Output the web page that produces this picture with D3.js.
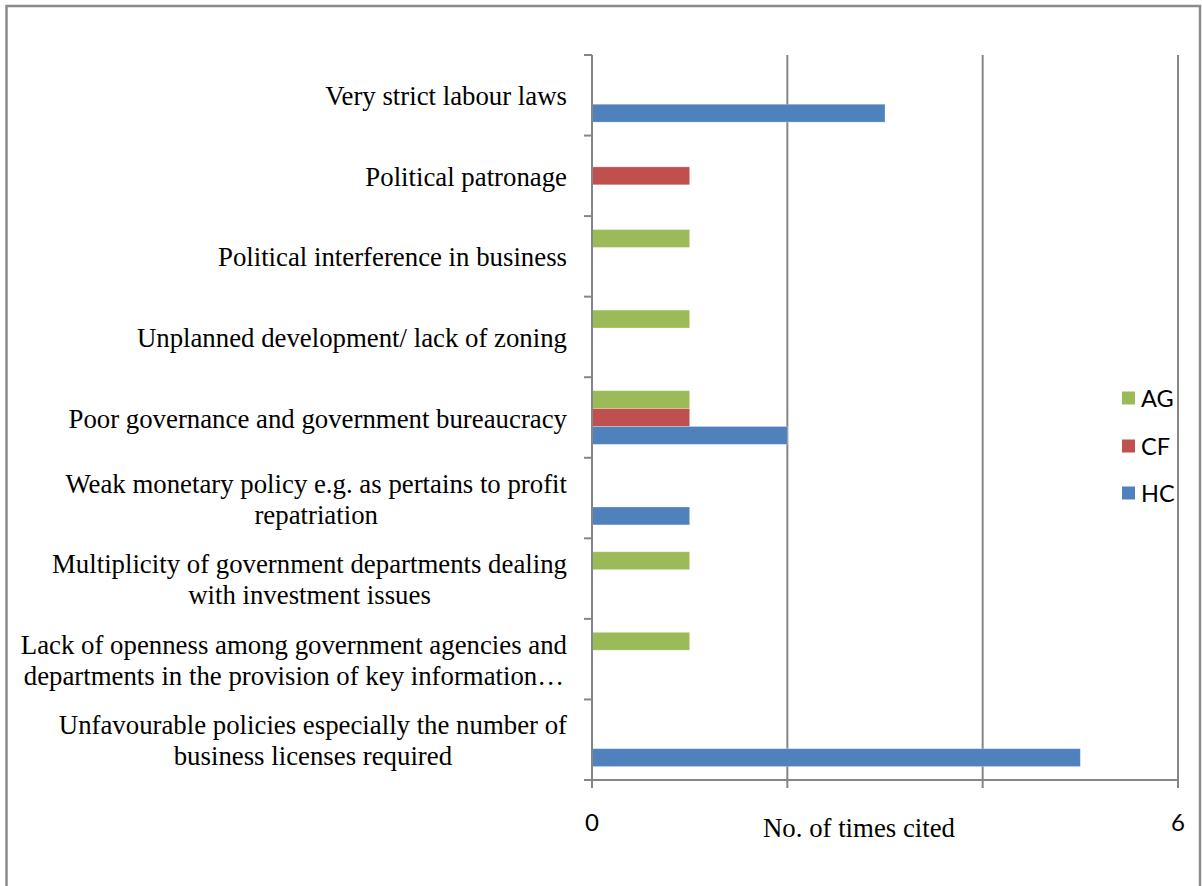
<!DOCTYPE html>
<html>
<head>
<meta charset="utf-8">
<script src="https://cdn.jsdelivr.net/npm/d3@7"></script>
<style>
  html, body { margin: 0; padding: 0; background: #fff; }
  svg { display: block; }
</style>
</head>
<body>
<svg id="chart" width="1202" height="886"></svg>
<script>
// Categories, top to bottom; each is a list of wrapped lines
const categories = [
  ["Very strict labour laws"],
  ["Political patronage"],
  ["Political interference in business"],
  ["Unplanned development/ lack of zoning"],
  ["Poor governance and government bureaucracy"],
  ["Weak monetary policy e.g. as pertains to profit", "repatriation"],
  ["Multiplicity of government departments dealing", "with investment issues"],
  ["Lack of openness among government agencies and", "departments in the provision of key information\u2026"],
  ["Unfavourable policies especially the number of", "business licenses required"]
];

// Series values per category (same order as categories)
const seriesNames = ["AG", "CF", "HC"];
const valuesAG = [0, 0, 1, 1, 1, 0, 1, 1, 0];
const valuesCF = [0, 1, 0, 0, 1, 0, 0, 0, 0];
const valuesHC = [3, 0, 0, 0, 2, 1, 0, 0, 5];

const xTickValues = [0, 2, 4, 6];
const xTickLabels = [0, 6];
const xTitle = "No. of times cited";

const colors = { AG: "#9BBB59", CF: "#C0504D", HC: "#4F81BD" };
const seriesValues = { AG: valuesAG, CF: valuesCF, HC: valuesHC };

const svg = d3.select("#chart");
const gridColor = "#868686";
const serif = "'Liberation Serif', 'Times New Roman', serif";
const sans = "Lato, 'Open Sans', sans-serif";

// Outer frame
svg.append("rect")
  .attr("x", 6.5).attr("y", 6)
  .attr("width", 1193.5).attr("height", 900)
  .attr("fill", "none")
  .attr("stroke", "#8c8c8c")
  .attr("stroke-width", 2.5);

const plot = { left: 592, right: 1178, top: 55, bottom: 780 };

const x = d3.scaleLinear().domain([0, 6]).range([plot.left, plot.right]);
const y = d3.scaleBand()
  .domain(d3.range(categories.length))
  .range([plot.top, plot.bottom])
  .paddingInner(0).paddingOuter(0);
const ySeries = d3.scaleBand()
  .domain(seriesNames)
  .range([0, y.bandwidth()])
  .paddingInner(0).paddingOuter(0.75);

// Vertical gridlines
svg.append("g")
  .selectAll("line")
  .data(xTickValues.filter(v => v > 0))
  .join("line")
  .attr("x1", d => x(d)).attr("x2", d => x(d))
  .attr("y1", plot.top).attr("y2", plot.bottom)
  .attr("stroke", gridColor).attr("stroke-width", 2);

// Bars
const rows = [];
categories.forEach((c, i) => {
  seriesNames.forEach(s => {
    const v = seriesValues[s][i];
    if (v > 0) rows.push({ i, s, v });
  });
});
svg.append("g")
  .selectAll("rect")
  .data(rows)
  .join("rect")
  .attr("x", x(0))
  .attr("y", d => y(d.i) + ySeries(d.s))
  .attr("width", d => x(d.v) - x(0))
  .attr("height", ySeries.bandwidth())
  .attr("fill", d => colors[d.s])
  .attr("stroke", "rgba(255,255,255,0.35)")
  .attr("stroke-width", 0.8);

// Category axis (left)
const yAxisG = svg.append("g");
yAxisG.append("line")
  .attr("x1", plot.left).attr("x2", plot.left)
  .attr("y1", plot.top).attr("y2", plot.bottom + 8)
  .attr("stroke", gridColor).attr("stroke-width", 2);
const boundaries = d3.range(categories.length + 1).map(i => plot.top + i * y.step());
yAxisG.selectAll("line.tick")
  .data(boundaries)
  .join("line")
  .attr("class", "tick")
  .attr("x1", plot.left - 8).attr("x2", plot.left)
  .attr("y1", d => d).attr("y2", d => d)
  .attr("stroke", gridColor).attr("stroke-width", 2);

// Value axis (bottom)
const xAxisG = svg.append("g");
xAxisG.append("line")
  .attr("x1", plot.left - 8).attr("x2", plot.right)
  .attr("y1", plot.bottom).attr("y2", plot.bottom)
  .attr("stroke", gridColor).attr("stroke-width", 2);
xAxisG.selectAll("line.tick")
  .data(xTickValues)
  .join("line")
  .attr("class", "tick")
  .attr("x1", d => x(d)).attr("x2", d => x(d))
  .attr("y1", plot.bottom).attr("y2", plot.bottom + 8)
  .attr("stroke", gridColor).attr("stroke-width", 2);
xAxisG.selectAll("text")
  .data(xTickLabels)
  .join("text")
  .attr("x", d => x(d))
  .attr("y", 831)
  .attr("text-anchor", "middle")
  .attr("font-family", sans)
  .attr("font-size", 24)
  .attr("fill", "#000")
  .text(d => d);

// Axis title
svg.append("text")
  .attr("x", 859).attr("y", 837)
  .attr("text-anchor", "middle")
  .attr("font-family", serif)
  .attr("font-size", 26.8)
  .attr("fill", "#000")
  .text(xTitle);

// Category labels: block right-aligned at the axis, lines centred within the block
const labelRight = 567;
const lineHeight = 31;
const labelG = svg.append("g");
categories.forEach((lines, i) => {
  const cy = y(i) + y.bandwidth() / 2;
  const t = labelG.append("text")
    .attr("font-family", serif)
    .attr("font-size", 26.8)
    .attr("fill", "#000")
    .attr("text-anchor", "middle");
  const spans = lines.map((ln, k) => t.append("tspan")
    .attr("y", cy + (k - (lines.length - 1) / 2) * lineHeight + 10)
    .text(ln));
  const w = d3.max(spans, s => s.node().getComputedTextLength());
  spans.forEach(s => s.attr("x", labelRight - w / 2));
});

// Legend
const legend = svg.append("g");
const legendY = { AG: 398, CF: 446, HC: 493 };
seriesNames.forEach(s => {
  legend.append("rect")
    .attr("x", 1122).attr("y", legendY[s] - 6.5)
    .attr("width", 13).attr("height", 13)
    .attr("fill", colors[s]);
  legend.append("text")
    .attr("x", 1141).attr("y", legendY[s] + 8.5)
    .attr("font-family", sans)
    .attr("font-size", 23.5)
    .attr("fill", "#000")
    .text(s);
});
</script>
</body>
</html>
